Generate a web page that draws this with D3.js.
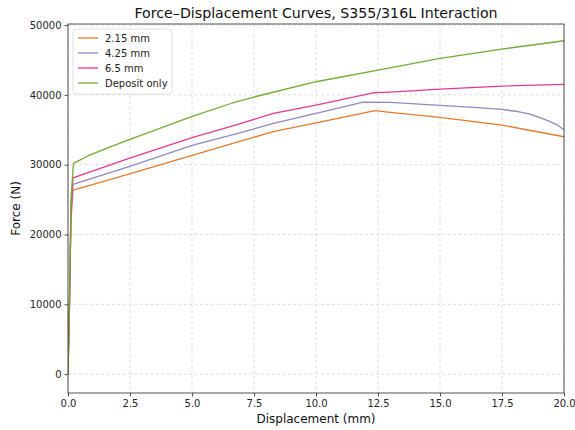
<!DOCTYPE html>
<html>
<head>
<meta charset="utf-8">
<script src="https://cdn.jsdelivr.net/npm/d3@7"></script>
<style>
  html, body { margin: 0; padding: 0; background: #fff; }
  svg { display: block; font-family: "DejaVu Sans", sans-serif; }
</style>
</head>
<body>
<svg id="chart" width="575" height="430"></svg>
<script>
// Displacement (mm) / force (N) samples for each weld configuration
const seriesNames = ["2.15 mm", "4.25 mm", "6.5 mm", "Deposit only"];
const seriesColors = ["#e57a2c", "#8f87c8", "#e8378f", "#72ab34"];

const disp215 = [0, 0.06, 0.12, 0.2, 0.67, 2.55, 5.04, 6.85, 8.28, 10.0, 12.38, 13.0, 15.0, 17.5, 20.0];
const force215 = [0, 10000, 22000, 26360, 26830, 28750, 31380, 33280, 34720, 36000, 37730, 37490, 36770, 35670, 34000];

const disp425 = [0, 0.06, 0.12, 0.2, 2.55, 5.04, 6.85, 8.28, 10.0, 11.9, 13.0, 15.0, 16.5, 17.5, 18.1, 18.63, 19.3, 19.7, 20.0];
const force425 = [0, 10000, 23000, 27170, 29840, 32800, 34480, 35910, 37350, 38970, 38920, 38490, 38170, 37920, 37620, 37250, 36390, 35750, 35000];

const disp65 = [0, 0.06, 0.12, 0.2, 2.55, 5.04, 6.85, 8.28, 10.0, 12.3, 13.0, 15.0, 17.5, 20.0];
const force65 = [0, 10000, 23500, 28100, 31000, 33900, 35770, 37350, 38540, 40300, 40400, 40830, 41260, 41500];

const dispDep = [0, 0.06, 0.12, 0.22, 0.8, 1.6, 2.55, 5.04, 6.6, 7.54, 10.0, 12.5, 15.0, 17.5, 20.0];
const forceDep = [0, 10000, 25000, 30190, 31250, 32400, 33700, 36960, 38800, 39730, 41880, 43550, 45220, 46560, 47750];

const xTicks = [0, 2.5, 5, 7.5, 10, 12.5, 15, 17.5, 20];
const yTicks = [0, 10000, 20000, 30000, 40000, 50000];

const seriesData = [
  d3.zip(disp215, force215),
  d3.zip(disp425, force425),
  d3.zip(disp65, force65),
  d3.zip(dispDep, forceDep)
];

const svg = d3.select("#chart");
const margin = { left: 68, right: 11, top: 24, bottom: 37 };
const W = 575, H = 430;
const innerW = W - margin.left - margin.right;
const innerH = H - margin.top - margin.bottom;

const x = d3.scaleLinear().domain([0, 20]).range([margin.left, margin.left + innerW]);
const y = d3.scaleLinear().domain([-2700, 50150]).range([margin.top + innerH, margin.top]);

// grid
const grid = svg.append("g");
grid.selectAll("line.gx").data(xTicks).join("line")
  .attr("x1", d => x(d)).attr("x2", d => x(d))
  .attr("y1", margin.top).attr("y2", margin.top + innerH)
  .attr("stroke", "#d4d4d4").attr("stroke-width", 0.8).attr("stroke-dasharray", "3,2.5");
grid.selectAll("line.gy").data(yTicks).join("line")
  .attr("x1", margin.left).attr("x2", margin.left + innerW)
  .attr("y1", d => y(d)).attr("y2", d => y(d))
  .attr("stroke", "#d4d4d4").attr("stroke-width", 0.8).attr("stroke-dasharray", "3,2.5");

// curves
svg.append("clipPath").attr("id", "plotClip").append("rect")
  .attr("x", margin.left).attr("y", margin.top).attr("width", innerW).attr("height", innerH);
const line = d3.line().x(d => x(d[0])).y(d => y(d[1]));
svg.append("g").attr("clip-path", "url(#plotClip)")
  .selectAll("path").data(seriesData).join("path")
  .attr("d", line)
  .attr("fill", "none")
  .attr("stroke", (d, i) => seriesColors[i])
  .attr("stroke-width", 1.3)
  .attr("stroke-linejoin", "round");

// axes
const xAxis = d3.axisBottom(x).tickValues(xTicks).tickFormat(d3.format(".1f")).tickSize(3.5).tickPadding(3);
const yAxis = d3.axisLeft(y).tickValues(yTicks).tickFormat(d3.format("d")).tickSize(3.5).tickPadding(3);
const gx = svg.append("g").attr("transform", `translate(0,${margin.top + innerH})`).call(xAxis);
const gy = svg.append("g").attr("transform", `translate(${margin.left},0)`).call(yAxis);
[gx, gy].forEach(g => {
  g.select(".domain").remove();
  g.selectAll("text").attr("font-size", 10).attr("fill", "#262626").attr("font-family", "DejaVu Sans, sans-serif");
  g.selectAll("line").attr("stroke", "#262626").attr("stroke-width", 0.8);
});

// frame
svg.append("rect")
  .attr("x", margin.left).attr("y", margin.top).attr("width", innerW).attr("height", innerH)
  .attr("fill", "none").attr("stroke", "#262626").attr("stroke-width", 0.8);

// labels
svg.append("text").attr("x", margin.left + innerW / 2).attr("y", 18)
  .attr("text-anchor", "middle").attr("font-size", 14.2).attr("fill", "#111")
  .text("Force–Displacement Curves, S355/316L Interaction");
svg.append("text").attr("x", margin.left + innerW / 2).attr("y", 423)
  .attr("text-anchor", "middle").attr("font-size", 12).attr("fill", "#111")
  .text("Displacement (mm)");
svg.append("text").attr("transform", `translate(20,${margin.top + innerH / 2}) rotate(-90)`)
  .attr("text-anchor", "middle").attr("font-size", 12).attr("fill", "#111")
  .text("Force (N)");

// legend
const lg = svg.append("g").attr("transform", "translate(73,29)");
lg.append("rect").attr("width", 99).attr("height", 65).attr("rx", 3)
  .attr("fill", "#fff").attr("fill-opacity", 0.8).attr("stroke", "#d8d8d8").attr("stroke-width", 0.8);
const items = lg.selectAll("g.item").data(seriesNames).join("g")
  .attr("transform", (d, i) => `translate(0,${9 + i * 15})`);
items.append("line").attr("x1", 5).attr("x2", 25).attr("y1", 0).attr("y2", 0)
  .attr("stroke", (d, i) => seriesColors[i]).attr("stroke-width", 1.3);
items.append("text").attr("x", 32).attr("y", 3.8).attr("font-size", 10).attr("fill", "#222").text(d => d);
</script>
</body>
</html>
